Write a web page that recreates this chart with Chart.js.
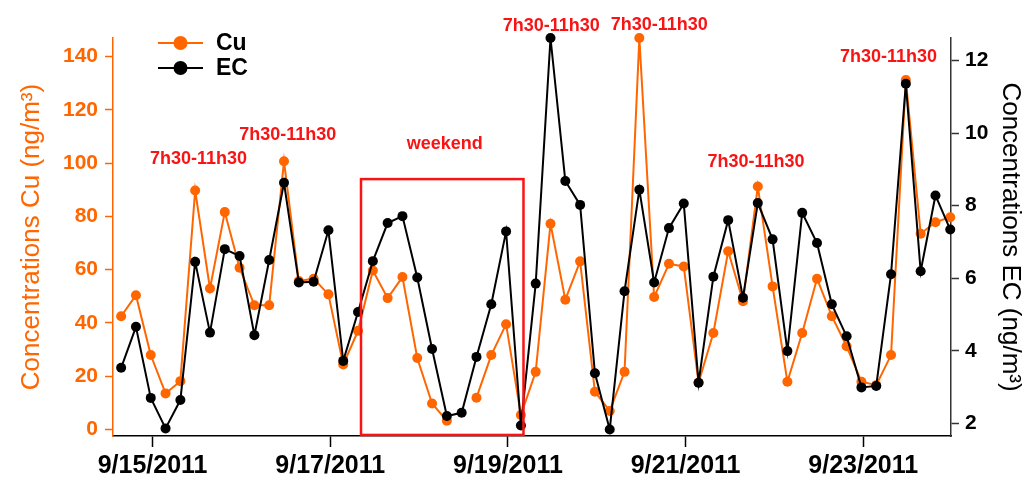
<!DOCTYPE html>
<html>
<head>
<meta charset="utf-8">
<script src="https://cdn.jsdelivr.net/npm/chart.js@4.4.1/dist/chart.umd.min.js"></script>
<style>
  html, body { margin: 0; padding: 0; background: #ffffff; }
  #wrap { width: 1030px; height: 477px; }
</style>
</head>
<body>
<div id="wrap"><canvas id="cuec"></canvas></div>
<script>
// sample times, hours after 9/14/2011 00:00 (4 h samples)
const sampleHours = [
  15.5, 19.5, 23.5, 27.5, 31.5, 35.5, 39.5, 43.5, 47.5, 51.5,
  55.5, 59.5, 63.5, 67.5, 71.5, 75.5, 79.5, 83.5, 87.5, 91.5,
  95.5, 99.5, 103.5, 107.5, 111.5, 115.5, 119.5, 123.5, 127.5, 131.5,
  135.5, 139.5, 143.5, 147.5, 151.5, 155.5, 159.5, 163.5, 167.5, 171.5,
  175.5, 179.5, 183.5, 187.5, 191.5, 195.5, 199.5, 203.5, 207.5, 211.5,
  215.5, 219.5, 223.5, 227.5, 231.5, 235.5, 239.5
];

// Cu (ng/m3), left axis
const cuValues = [
  42.5, 50.4, 27.9, 13.5, 18.1, 89.7, 52.9, 81.6, 60.7, 46.6,
  46.6, 100.7, 55.7, 56.6, 50.7, 24.4, 37.0, 59.7, 49.3, 57.2,
  26.8, 9.7, 3.2, null, 11.9, 27.9, 39.5, 5.4, 21.6, 77.2,
  48.7, 63.1, 14.1, 6.9, 21.6, 147.0, 49.7, 62.2, 61.2, 17.5,
  36.2, 66.9, 48.1, 91.2, 53.7, 17.9, 36.2, 56.6, 42.5, 31.2,
  17.9, 16.6, 27.9, 131.2, 73.5, 77.8, 79.7
];

// EC (ng/m3), right axis
const ecValues = [
  3.53, 4.66, 2.70, 1.86, 2.64, 6.45, 4.50, 6.80, 6.61, 4.43,
  6.50, 8.63, 5.88, 5.90, 7.32, 3.72, 5.07, 6.47, 7.52, 7.71,
  6.02, 4.05, 2.20, 2.29, 3.83, 5.28, 7.29, 1.94, 5.85, 12.62,
  8.68, 8.02, 3.38, 1.83, 5.64, 8.44, 5.88, 7.38, 8.06, 3.12,
  6.04, 7.60, 5.46, 8.07, 7.07, 3.99, 7.80, 6.97, 5.28, 4.40,
  2.99, 3.03, 6.11, 11.36, 6.19, 8.28, 7.34
];

const tickHours = [24, 72, 120, 168, 216];
const tickLabels = ['9/15/2011', '9/17/2011', '9/19/2011', '9/21/2011', '9/23/2011'];

// red notes: [hours, Cu value, text]
const notes = [
  [36.4, 101.6, '7h30-11h30'],
  [60.5, 110.7, '7h30-11h30'],
  [131.7, 151.6, '7h30-11h30'],
  [160.9, 152.0, '7h30-11h30'],
  [187.0, 100.3, '7h30-11h30'],
  [222.8, 139.7, '7h30-11h30'],
  [102.9, 107.0, 'weekend']
];
// weekend box: hours from/to, Cu from/to
const weekendBox = [80.3, 124.2, -2.1, 94];

const ORANGE = '#ff6600';
const RED = '#f81414';

const notesPlugin = {
  id: 'notes',
  afterDatasetsDraw(chart) {
    const ctx = chart.ctx;
    const x = chart.scales.x;
    const y = chart.scales.yCu;
    ctx.save();
    // weekend rectangle
    ctx.strokeStyle = RED;
    ctx.lineWidth = 2.5;
    const x0 = x.getPixelForValue(weekendBox[0]);
    const x1 = x.getPixelForValue(weekendBox[1]);
    const y0 = y.getPixelForValue(weekendBox[3]);
    const y1 = y.getPixelForValue(weekendBox[2]);
    ctx.strokeRect(x0, y0, x1 - x0, y1 - y0);
    // text notes
    ctx.fillStyle = RED;
    ctx.font = 'bold 18px "Liberation Sans", Arial, sans-serif';
    ctx.textAlign = 'center';
    ctx.textBaseline = 'middle';
    notes.forEach(n => {
      ctx.fillText(n[2], x.getPixelForValue(n[0]), y.getPixelForValue(n[1]));
    });
    // legend
    chart.data.datasets.forEach((ds, i) => {
      const ly = 43 + i * 25;
      ctx.strokeStyle = ds.borderColor;
      ctx.lineWidth = 2;
      ctx.beginPath();
      ctx.moveTo(158, ly);
      ctx.lineTo(203, ly);
      ctx.stroke();
      ctx.fillStyle = ds.borderColor;
      ctx.beginPath();
      ctx.arc(180.5, ly, 7, 0, Math.PI * 2);
      ctx.fill();
      ctx.fillStyle = '#000000';
      ctx.font = 'bold 23px "Liberation Sans", Arial, sans-serif';
      ctx.textAlign = 'left';
      ctx.fillText(ds.label, 216, ly + 1);
    });
    ctx.restore();
  }
};

const ctx = document.getElementById('cuec').getContext('2d');

const cuChart = new Chart(ctx, {
  type: 'line',
  data: {
    datasets: [{
      label: 'Cu',
      data: sampleHours.map((h, i) => ({x: h, y: cuValues[i]})),
      yAxisID: 'yCu',
      borderColor: ORANGE,
      backgroundColor: ORANGE,
      borderWidth: 2,
      pointRadius: 5,
      pointBorderWidth: 0,
      spanGaps: false,
      clip: false,
      order: 2
    },
    {
      label: 'EC',
      data: sampleHours.map((h, i) => ({x: h, y: ecValues[i]})),
      yAxisID: 'yEC',
      borderColor: '#000000',
      backgroundColor: '#000000',
      borderWidth: 2,
      pointRadius: 5,
      pointBorderWidth: 0,
      clip: false,
      order: 1
    }]
  },
  options: {
    responsive: true,
    maintainAspectRatio: false,
    animation: false,
    layout: { padding: { top: 38, left: 0, right: 0, bottom: 0 } },
    plugins: {
      legend: { display: false },
      tooltip: { enabled: false }
    },
    scales: {
      x: {
        type: 'linear',
        position: 'bottom',
        min: 13.3,
        max: 239.7,
        afterBuildTicks: (scale) => { scale.ticks = tickHours.map(v => ({value: v})); },
        afterFit: (scale) => { scale.height = 41; },
        border: { color: '#000000', width: 1.5 },
        grid: { drawOnChartArea: false, drawTicks: true, tickLength: 11, color: '#000000', tickWidth: 1.5 },
        ticks: {
          autoSkip: false,
          maxRotation: 0,
          padding: 4,
          color: '#000000',
          font: { family: '"Liberation Sans", Arial, sans-serif', size: 25, weight: 'bold' },
          callback: (v) => tickLabels[tickHours.indexOf(v)]
        }
      },
      yCu: {
        type: 'linear',
        position: 'left',
        min: -2.5,
        max: 147,
        afterFit: (scale) => { scale.width = 113; },
        border: { color: ORANGE, width: 1.5 },
        grid: { drawOnChartArea: false, drawTicks: true, tickLength: 8, color: ORANGE, tickWidth: 1.5 },
        ticks: {
          stepSize: 20,
          includeBounds: false,
          padding: 7,
          color: ORANGE,
          font: { family: '"Liberation Sans", Arial, sans-serif', size: 21, weight: 'bold' }
        },
        title: {
          display: true,
          text: 'Concentrations Cu (ng/m³)',
          color: ORANGE,
          padding: { top: 16, bottom: 0 },
          font: { family: '"Liberation Sans", Arial, sans-serif', size: 26, weight: 'normal' }
        }
      },
      yEC: {
        type: 'linear',
        position: 'right',
        min: 1.65,
        max: 12.62,
        afterFit: (scale) => { scale.width = 79; },
        border: { color: '#333333', width: 1.5 },
        grid: { drawOnChartArea: false, drawTicks: true, tickLength: 8, color: '#333333', tickWidth: 1.5 },
        ticks: {
          stepSize: 2,
          includeBounds: false,
          padding: 6,
          color: '#000000',
          font: { family: '"Liberation Sans", Arial, sans-serif', size: 21, weight: 'bold' }
        },
        title: {
          display: true,
          text: 'Concentrations EC (ng/m³)',
          color: '#000000',
          padding: { top: 4, bottom: 0 },
          font: { family: '"Liberation Sans", Arial, sans-serif', size: 26, weight: 'normal' }
        }
      }
    }
  },
  plugins: [notesPlugin]
});
</script>
</body>
</html>
